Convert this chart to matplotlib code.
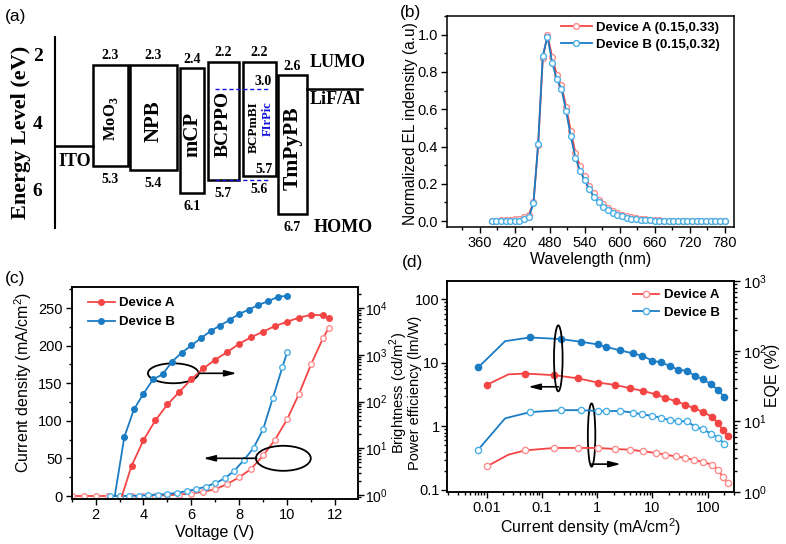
import numpy as np
import matplotlib
matplotlib.use("Agg")
import matplotlib.pyplot as plt
from matplotlib.patches import Rectangle, Ellipse
from matplotlib.ticker import MultipleLocator, FormatStrFormatter, FuncFormatter, LogLocator, NullFormatter

plt.rcParams["font.family"] = ["Liberation Sans", "DejaVu Sans"]
plt.rcParams["mathtext.fontset"] = "custom"
plt.rcParams["mathtext.rm"] = "Liberation Sans"
plt.rcParams["mathtext.bf"] = "Liberation Serif:bold"

# ==========================
# DATA (a) energy levels
# ==========================
layer_names = ["MoO$_{\\mathbf{3}}$", "NPB", "mCP", "BCPPO", "BCPmBI", "TmPyPB"]
layer_lumo = [2.3, 2.3, 2.4, 2.2, 2.2, 2.6]
layer_homo = [5.3, 5.4, 6.1, 5.7, 5.6, 6.7]
ito_level = 4.7
cathode_level = 3.0
firpic_lumo = 3.0
firpic_homo = 5.7
energy_ticks = [2, 4, 6]

# ==========================
# DATA (b) EL spectra
# ==========================
wavelength = [380, 388, 396, 404, 412, 420, 428, 436, 444, 452, 460, 468, 476,
              484, 492, 500, 508, 516, 524, 532, 540, 548, 556, 564, 572, 580,
              588, 596, 604, 612, 620, 628, 636, 644, 652, 660, 668, 676, 684,
              692, 700, 708, 716, 724, 732, 740, 748, 756, 764, 772, 780]
el_a = [0.0, 0.002, 0.005, 0.007, 0.008, 0.01, 0.012, 0.02, 0.035, 0.1, 0.406,
        0.875, 1.0, 0.88, 0.785, 0.728, 0.612, 0.483, 0.365, 0.293, 0.24, 0.19,
        0.15, 0.115, 0.09, 0.07, 0.055, 0.043, 0.034, 0.027, 0.021, 0.016, 0.012,
        0.009, 0.007, 0.005, 0.004, 0.003, 0.002, 0.001, 0.0, 0.0, 0.0, 0.0,
        0.0, 0.0, 0.0, 0.0, 0.0, 0.0, 0.0]
el_b = [0.0, 0.0, 0.0, 0.0, 0.0, 0.0, 0.003, 0.01, 0.021, 0.097, 0.415, 0.887,
        0.99, 0.85, 0.76, 0.71, 0.59, 0.454, 0.34, 0.27, 0.218, 0.17, 0.13,
        0.1, 0.077, 0.058, 0.045, 0.034, 0.025, 0.018, 0.013, 0.009, 0.007,
        0.005, 0.004, 0.003, 0.002, 0.001, 0.0, 0.0, 0.0, 0.0, 0.0, 0.0, 0.0,
        0.0, 0.0, 0.0, 0.0, 0.0, 0.0]

# ==========================
# DATA (c) J-V-L
# ==========================
volt_a_j = [1.0, 1.5, 2.0, 2.5, 3.0, 3.5, 4.0, 4.5, 5.0, 5.5, 6.0, 6.5, 7.0,
            7.5, 8.0, 8.5, 9.0, 9.5, 10.0, 10.5, 11.0, 11.5, 11.75]
jdens_a = [0, 0, 0, 0, 0, 0.1, 0.3, 0.6, 1.1, 2.0, 3.3, 5.5, 9, 16, 25, 36,
           54, 75, 102, 136, 175, 210, 224]
volt_b_j = [2.6, 3.0, 3.4, 3.8, 4.2, 4.6, 5.0, 5.4, 5.8, 6.2, 6.6, 7.0, 7.4,
            7.8, 8.2, 8.6, 9.0, 9.4, 9.8, 10.0]
jdens_b = [0, 0, 0.2, 0.5, 1.0, 1.8, 2.7, 4.2, 6.5, 9, 12.4, 17, 23.6, 33.8,
           48, 64, 89, 130, 171, 191]

volt_a_l = [3.1, 3.5, 4.0, 4.5, 5.0, 5.5, 6.0, 6.5, 7.0, 7.5, 8.0, 8.5, 9.0,
            9.5, 10.0, 10.5, 11.0, 11.5, 11.75]
lum_a = [0.95, 4.2, 15, 40, 87, 162, 302, 513, 794, 1150, 1740, 2400, 3160,
         4170, 5130, 6310, 7240, 7080, 6170]
volt_b_l = [2.8, 3.2, 3.6, 4.0, 4.4, 4.8, 5.2, 5.6, 6.0, 6.4, 6.8, 7.2, 7.6,
            8.0, 8.4, 8.8, 9.2, 9.6, 10.0]
lum_b = [0.95, 17.6, 68, 148, 300, 385, 724, 1120, 1600, 2290, 3240, 4270,
         5620, 7590, 9330, 11750, 14130, 17380, 18620]

# ==========================
# DATA (d) efficiencies
# ==========================
jd_a = [0.01, 0.0247, 0.0497, 0.168, 0.45, 1.03, 2.09, 3.9, 6.8, 11.5, 17,
        26.5, 38.6, 57, 83, 120, 156, 186, 229]
pe_a = [4.5, 6.6, 6.8, 6.4, 5.7, 4.9, 4.5, 4.0, 3.6, 3.2, 2.8, 2.5, 2.2, 1.93,
        1.67, 1.42, 1.12, 0.88, 0.71]
eqe_a = [2.29, 3.37, 3.88, 4.2, 4.2, 4.2, 4.06, 3.97, 3.76, 3.56, 3.37, 3.18,
         3.02, 2.85, 2.64, 2.42, 2.05, 1.64, 1.32]
jd_b = [0.007, 0.0215, 0.061, 0.221, 0.51, 1.03, 1.42, 2.58, 4.45, 6.6, 10,
        14.2, 20.9, 29.2, 42, 59.6, 83, 115, 156, 199]
pe_b = [8.5, 22, 25.2, 23.7, 21.5, 19.5, 17.9, 15.8, 14.1, 12.9, 10.8, 10.2,
        8.9, 7.8, 7.5, 6.2, 5.5, 4.6, 3.7, 2.9]
eqe_b = [3.97, 11.1, 13.6, 14.5, 14.5, 14.1, 14.1, 14.1, 13.4, 12.6, 12.0,
         11.3, 10.4, 10.1, 10.1, 8.4, 7.7, 6.7, 5.85, 4.85]

# ==========================
# STYLE
# ==========================
RED = "#f44545"
RED_LIGHT = "#ff8c8c"
BLUE = "#1b7cc4"
BLUE_LIGHT = "#47b0e6"
SERIF = "Liberation Serif"


def style_axes(ax, right=False):
    for s in ax.spines.values():
        s.set_linewidth(1.1)
    ax.tick_params(which="both", direction="out", top=False, right=right,
                   left=not right, width=1.0, labelsize=10.5)
    ax.tick_params(which="major", length=4, pad=2.5)
    ax.tick_params(which="minor", length=2)


fig = plt.figure(figsize=(7.86, 5.44), dpi=100)

# ==========================
# (a) ENERGY DIAGRAM
# ==========================
box_left = [38, 75, 125, 153, 188, 223]
box_width = [35, 47, 24, 31, 33, 29]
label_size = [12, 15, 15, 14, 9.5, 15.5]

axa = fig.add_axes([0.07, 0.5814, 0.4008, 0.35])
axa.set_xlim(0, 315)
axa.set_ylim(7.12, 1.48)
for s in ["top", "right", "bottom"]:
    axa.spines[s].set_visible(False)
axa.spines["left"].set_linewidth(1.5)
axa.set_xticks([])
axa.set_yticks(energy_ticks)
axa.set_yticklabels([str(t) for t in energy_ticks], fontfamily=SERIF,
                    fontweight="bold", fontsize=14)
axa.tick_params(axis="y", length=0, pad=9)
axa.set_ylabel("Energy Level (eV)", fontfamily=SERIF, fontweight="bold",
               fontsize=16, labelpad=1)

for name, lu, ho, x0, w, fs in zip(layer_names, layer_lumo, layer_homo,
                                     box_left, box_width, label_size):
    axa.add_patch(Rectangle((x0, lu), w, ho - lu, fill=False, lw=1.8,
                            edgecolor="black"))
    axa.text(x0 + w / 2, lu - 0.27, f"{lu:.1f}", ha="center", va="center",
             fontfamily=SERIF, fontweight="bold", fontsize=10)
    axa.text(x0 + w / 2, ho + 0.4, f"{ho:.1f}", ha="center", va="center",
             fontfamily=SERIF, fontweight="bold", fontsize=10)
    if name == "BCPmBI":
        axa.text(x0 + w / 2 - 6, (lu + ho) / 2 + 0.25, name, rotation=90,
                 ha="center", va="center", fontfamily=SERIF,
                 fontweight="bold", fontsize=fs)
        axa.text(x0 + w / 2 + 8, (lu + ho) / 2 - 0.0, "FIrPic", rotation=90,
                 ha="center", va="center", fontfamily=SERIF,
                 fontweight="bold", fontsize=9, color="#1010e0")
        axa.plot([x0 - 28, x0 + w - 6], [firpic_lumo, firpic_lumo], ls="--",
                 color="#1010e0", lw=1.0, dashes=(3, 2))
        axa.plot([x0 - 28, x0 + w - 6], [firpic_homo, firpic_homo], ls="--",
                 color="#1010e0", lw=1.0, dashes=(3, 2))
        axa.text(x0 + w / 2 + 4, firpic_lumo - 0.22, f"{firpic_lumo:.1f}",
                 ha="center", va="center", fontfamily=SERIF,
                 fontweight="bold", fontsize=10)
        axa.text(x0 + w / 2 + 5, firpic_homo - 0.3, f"{firpic_homo:.1f}",
                 ha="center", va="center", fontfamily=SERIF,
                 fontweight="bold", fontsize=10)
    else:
        axa.text(x0 + w / 2, (lu + ho) / 2 + 0.1, name, rotation=90,
                 ha="center", va="center", fontfamily=SERIF,
                 fontweight="bold", fontsize=fs)

axa.plot([0, box_left[0]], [ito_level, ito_level], color="black", lw=1.8)
cath_x = box_left[-1] + box_width[-1]
axa.plot([cath_x, cath_x + 55], [cathode_level, cathode_level],
         color="black", lw=1.8)
txt = dict(fontfamily=SERIF, fontweight="bold", fontsize=13, ha="center",
           va="center", clip_on=False)
axa.text(20, 5.17, "ITO", **txt)
axa.text(280, 3.33, "LiF/Al", **txt)
axa.text(283, 2.24, "LUMO", **txt)
axa.text(288, 7.12, "HOMO", **txt)

# ==========================
# (b) EL SPECTRA
# ==========================
axb = fig.add_axes([0.569, 0.5833, 0.3648, 0.3873])
axb.plot(wavelength, el_a, "-o", color=RED, lw=1.3, ms=4.2, mfc="white",
         mec=RED_LIGHT, mew=1.0, label="Device A (0.15,0.33)")
axb.plot(wavelength, el_b, "-o", color=BLUE, lw=1.3, ms=4.2, mfc="white",
         mec=BLUE_LIGHT, mew=1.0, label="Device B (0.15,0.32)")
axb.set_xlim(304, 796)
axb.set_ylim(-0.03, 1.1)
axb.xaxis.set_major_locator(MultipleLocator(60))
axb.xaxis.set_minor_locator(MultipleLocator(30))
axb.yaxis.set_major_locator(MultipleLocator(0.2))
axb.yaxis.set_minor_locator(MultipleLocator(0.1))
axb.yaxis.set_major_formatter(FormatStrFormatter("%.1f"))
axb.set_xticks(np.arange(360, 781, 60))
style_axes(axb)
axb.set_xlabel("Wavelength (nm)", fontsize=11.5)
axb.set_ylabel("Normalized EL indensity (a.u)", fontsize=11.2)
axb.xaxis.label.set_va("center")
axb.yaxis.label.set_va("center")
axb.xaxis.set_label_coords(0.5, -0.158)
axb.yaxis.set_label_coords(-0.127, 0.49)
axb.legend(loc="upper left", bbox_to_anchor=(0.37, 1.01), frameon=False,
           prop={"weight": "bold", "size": 9.5}, handlelength=2.3,
           handletextpad=0.35, labelspacing=0.35, borderaxespad=0.2)

# ==========================
# (c) J-V-L
# ==========================
axc = fig.add_axes([0.0912, 0.0827, 0.3639, 0.3897])
axc.plot(volt_a_j, jdens_a, "-o", color=RED, lw=1.3, ms=4, mfc="white",
         mec=RED_LIGHT, mew=1.0)
axc.plot(volt_b_j, jdens_b, "-o", color=BLUE, lw=1.3, ms=4, mfc="white",
         mec=BLUE_LIGHT, mew=1.0)
axc.set_xlim(1.0, 12.95)
axc.set_ylim(-4, 278)
axc.xaxis.set_major_locator(MultipleLocator(2))
axc.xaxis.set_minor_locator(MultipleLocator(1))
axc.yaxis.set_major_locator(MultipleLocator(50))
axc.yaxis.set_minor_locator(MultipleLocator(25))
style_axes(axc)
axc.set_xlabel("Voltage (V)", fontsize=11.5)
axc.set_ylabel("Current density (mA/cm$^2$)", fontsize=11.5)
axc.xaxis.label.set_va("center")
axc.yaxis.label.set_va("center")
axc.xaxis.set_label_coords(0.5, -0.156)
axc.yaxis.set_label_coords(-0.17, 0.55)

axc2 = axc.twinx()
axc2.set_yscale("log")
axc2.plot(volt_a_l, lum_a, "-o", color=RED, lw=1.3, ms=4, mec=RED,
          markevery=slice(1, None), label="Device A")
axc2.plot(volt_b_l, lum_b, "-o", color=BLUE, lw=1.3, ms=4, mec=BLUE,
          markevery=slice(1, None), label="Device B")
axc2.set_ylim(10 ** -0.085, 10 ** 4.455)
axc2.yaxis.set_major_locator(LogLocator(base=10, numticks=10))
axc2.yaxis.set_minor_locator(LogLocator(base=10, subs=np.arange(2, 10), numticks=10))
axc2.yaxis.set_minor_formatter(NullFormatter())
style_axes(axc2, right=True)
axc2.tick_params(axis="y", which="major", pad=1.5, labelsize=10)
axc2.set_ylabel("Brightness (cd/m$^2$)", fontsize=10.5, rotation=90)
axc2.yaxis.label.set_va("center")
axc2.yaxis.set_label_coords(1.145, 0.5)
axc2.legend(loc="upper left", bbox_to_anchor=(0.03, 0.99), frameon=False,
            prop={"weight": "bold", "size": 9.5}, handlelength=2.0,
            handletextpad=0.35, labelspacing=0.5, borderaxespad=0.2)

axc2.add_patch(Ellipse((0.355, 0.593), 0.177, 0.094, transform=axc2.transAxes,
                       fill=False, lw=1.3, color="black"))
axc2.annotate("", xy=(0.577, 0.593), xytext=(0.445, 0.593),
              xycoords="axes fraction",
              arrowprops=dict(arrowstyle="-|>,head_width=0.18,head_length=0.7",
                              lw=1.2, color="black", shrinkA=0, shrinkB=0))
axc2.add_patch(Ellipse((0.74, 0.192), 0.192, 0.118, transform=axc2.transAxes,
                       fill=False, lw=1.3, color="black"))
axc2.annotate("", xy=(0.46, 0.192), xytext=(0.647, 0.192),
              xycoords="axes fraction",
              arrowprops=dict(arrowstyle="-|>,head_width=0.18,head_length=0.7",
                              lw=1.2, color="black", shrinkA=0, shrinkB=0))

# ==========================
# (d) EFFICIENCIES
# ==========================
axd = fig.add_axes([0.569, 0.0961, 0.3651, 0.3873])
axd.set_xscale("log")
axd.set_yscale("log")
axd.plot(jd_a, pe_a, "-o", color=RED, lw=1.3, ms=4.5, mec=RED,
         markevery=[i for i in range(len(jd_a)) if i != 1])
axd.plot(jd_b, pe_b, "-o", color=BLUE, lw=1.3, ms=4.5, mec=BLUE,
         markevery=[i for i in range(len(jd_b)) if i != 1])
axd.set_xlim(10 ** -2.716, 10 ** 2.48)
axd.set_ylim(10 ** -1.03, 10 ** 2.29)
fmt_g = FuncFormatter(lambda v, p: f"{v:g}")
axd.xaxis.set_major_locator(LogLocator(base=10, numticks=10))
axd.xaxis.set_minor_locator(LogLocator(base=10, subs=np.arange(2, 10), numticks=10))
axd.xaxis.set_major_formatter(fmt_g)
axd.xaxis.set_minor_formatter(NullFormatter())
axd.yaxis.set_major_locator(LogLocator(base=10, numticks=10))
axd.yaxis.set_minor_locator(LogLocator(base=10, subs=np.arange(2, 10), numticks=10))
axd.yaxis.set_major_formatter(fmt_g)
axd.yaxis.set_minor_formatter(NullFormatter())
style_axes(axd)
axd.tick_params(axis="y", which="major", pad=1.5)
axd.set_xlabel("Current density (mA/cm$^2$)", fontsize=11.5)
axd.set_ylabel("Power efficiency (lm/W)", fontsize=10.5)
axd.xaxis.label.set_va("center")
axd.yaxis.label.set_va("center")
axd.xaxis.set_label_coords(0.5, -0.168)
axd.yaxis.set_label_coords(-0.112, 0.47)

axd2 = axd.twinx()
axd2.set_yscale("log")
axd2.plot(jd_a, eqe_a, "-o", color=RED, lw=1.3, ms=4.5, mfc="white",
          mec=RED_LIGHT, mew=1.0,
          markevery=[i for i in range(len(jd_a)) if i != 1], label="Device A")
axd2.plot(jd_b, eqe_b, "-o", color=BLUE, lw=1.3, ms=4.5, mfc="white",
          mec=BLUE_LIGHT, mew=1.0,
          markevery=[i for i in range(len(jd_b)) if i != 1], label="Device B")
axd2.set_ylim(1, 1000)
axd2.yaxis.set_major_locator(LogLocator(base=10, numticks=10))
axd2.yaxis.set_minor_locator(LogLocator(base=10, subs=np.arange(2, 10), numticks=10))
axd2.yaxis.set_minor_formatter(NullFormatter())
style_axes(axd2, right=True)
axd2.set_ylabel("EQE (%)", fontsize=11.5)
axd2.yaxis.label.set_va("center")
axd2.yaxis.set_label_coords(1.135, 0.554)
axd2.legend(loc="upper left", bbox_to_anchor=(0.62, 1.0), frameon=False,
            prop={"weight": "bold", "size": 9.5}, handlelength=2.0,
            handletextpad=0.35, labelspacing=0.4, borderaxespad=0.2)

axd2.add_patch(Ellipse((0.387, 0.633), 0.03, 0.313, transform=axd2.transAxes,
                       fill=False, lw=1.3, color="black"))
axd2.annotate("", xy=(0.282, 0.498), xytext=(0.387, 0.498),
              xycoords="axes fraction",
              arrowprops=dict(arrowstyle="-|>,head_width=0.18,head_length=0.7",
                              lw=1.2, color="black", shrinkA=0, shrinkB=0))
axd2.add_patch(Ellipse((0.503, 0.269), 0.026, 0.30, transform=axd2.transAxes,
                       fill=False, lw=1.3, color="black"))
axd2.annotate("", xy=(0.605, 0.131), xytext=(0.503, 0.131),
              xycoords="axes fraction",
              arrowprops=dict(arrowstyle="-|>,head_width=0.18,head_length=0.7",
                              lw=1.2, color="black", shrinkA=0, shrinkB=0))

# ==========================
# PANEL LETTERS
# ==========================
for lab, x, y in [("(a)", 5, 16), ("(b)", 400, 13), ("(c)", 5, 278), ("(d)", 402, 263)]:
    fig.text(x / 786, 1 - y / 544, lab, fontsize=12.5, ha="left", va="center")

fig.savefig("out.png", dpi=100)
